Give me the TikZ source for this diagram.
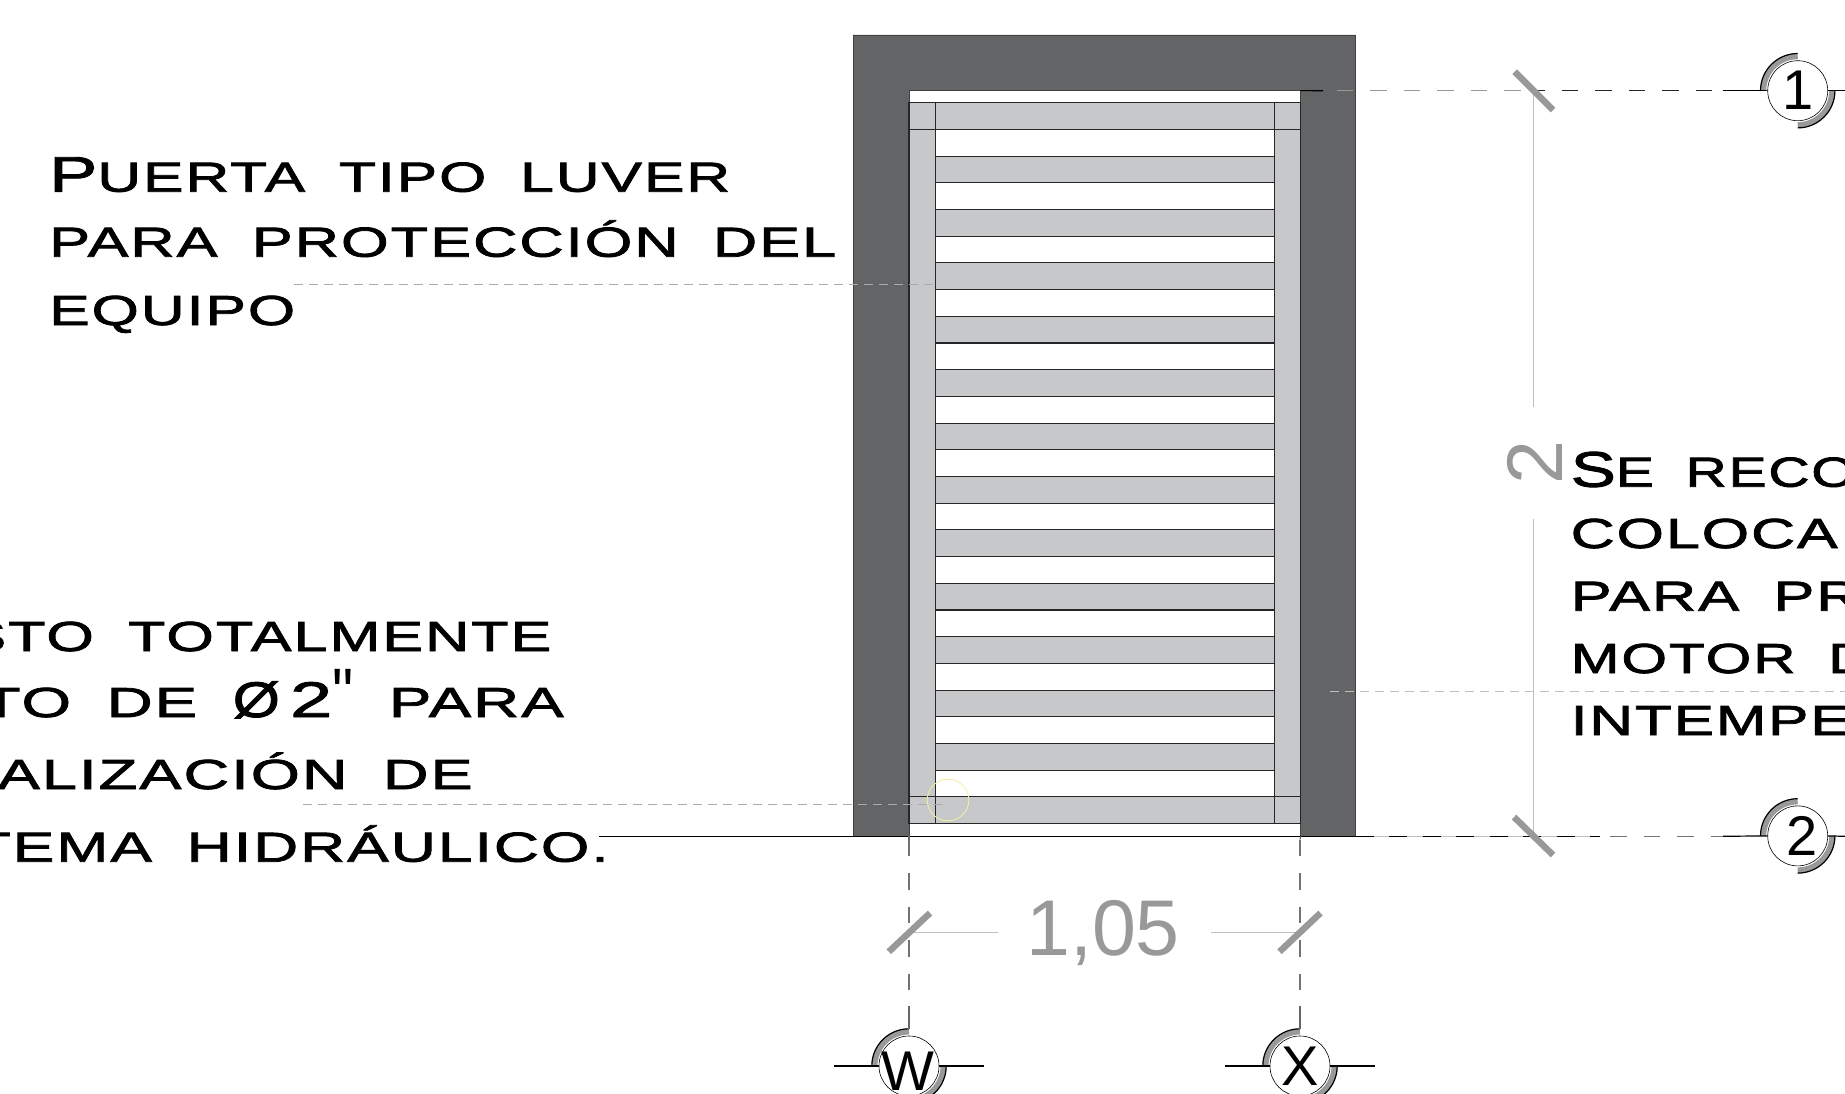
\documentclass[tikz,border=0pt]{standalone}
\usepackage{fontspec}
\usepackage{graphicx}
\setmainfont{Liberation Sans}
\newfontfamily\bank[FakeStretch=1.25,LetterSpace=4,FakeBold=1.8,WordSpace=1.8]{Liberation Sans}
\newfontfamily\thinf{Liberation Sans}
\definecolor{wallc}{HTML}{636466}
\definecolor{framec}{HTML}{C7C8CA}
\definecolor{dimc}{HTML}{999999}
\definecolor{leadc}{HTML}{ABABAB}
\definecolor{liney}{HTML}{F4F0A0}
\newcommand\fitw[2]{\resizebox{#1pt}{\height}{#2}}
\newcommand\capb[1]{{\fontsize{50}{50}\selectfont #1}}
\newcommand\axissym[6]{%
  % #1 name, #2 x, #3 y, #4 label, #5 label x shift, #6 label y shift
  \coordinate (#1c) at (#2,#3);
  \draw[axisarc] ([shift={(90:34.5pt)}]#1c) arc[start angle=90,end angle=180,radius=34.5pt];
  \draw[axisarc] ([shift={(270:34.5pt)}]#1c) arc[start angle=270,end angle=360,radius=34.5pt];
  \draw[axisedge] ([shift={(90:37.2pt)}]#1c) arc[start angle=90,end angle=180,radius=37.2pt];
  \draw[axisedge] ([shift={(270:37.2pt)}]#1c) arc[start angle=270,end angle=360,radius=37.2pt];
  \node[axiscirc] (#1) at (#1c) {};
  \node[axislabel,xshift=#5pt,yshift=#6pt] (#1t) at (#1c) {#4};
}
\tikzset{
  wall/.style={fill=wallc,draw=black!75,line width=0.7pt},
  rail/.style={fill=framec,draw=black!85,line width=1.1pt},
  railedge/.style={draw=black!85,line width=1.1pt},
  leader/.style={draw=leadc,line width=0.7pt,dash pattern=on 9pt off 6pt},
  axisdash/.style={draw=black!55,line width=1.2pt,dash pattern=on 16.5pt off 17pt},
  axisover/.style={draw=black,line width=1pt,dash pattern=on 18pt off 15.5pt},
  axisbase/.style={draw=black!25,line width=1pt},
  axisline/.style={draw=black,line width=1.2pt},
  axisvert/.style={draw=black!60,line width=1.2pt},
  dimline/.style={draw=black!25,line width=1pt},
  tick/.style={draw=dimc,line width=6.5pt},
  axisarc/.style={draw=dimc,line width=6pt},
  axisedge/.style={draw=black,line width=1.2pt},
  axiscirc/.style={circle,draw=black,fill=white,line width=0.6pt,minimum size=60pt,inner sep=0pt},
  axislabel/.style={inner sep=0pt,text=black,font=\fontsize{56}{56}\selectfont},
  dimtext/.style={inner sep=0pt,text=dimc,font=\fontsize{79}{79}\selectfont},
  note/.style={inner sep=0pt,text=black,font=\bank\fontsize{42}{42}\selectfont},
  cursor/.style={draw=liney,line width=0.8pt},
}
\begin{document}
\begin{tikzpicture}[x=1pt,y=-1pt]
\useasboundingbox (0,0) rectangle (1845,1094);
% named reference points
\coordinate (ioTL) at (909,90.6);
\coordinate (ioTR) at (1300.5,90.6);
\coordinate (ioBL) at (909,836.3);
\coordinate (ioBR) at (1300.5,836.3);
% wall
\fill[white] (ioTL) rectangle (ioBR);
\draw[wall] (853,836.3) -- (853,35) -- (1355.5,35) -- (1355.5,836.3) -- (ioBR) -- (ioTR) -- (ioTL) -- (ioBL) -- cycle;
% jambs
\draw[rail] (909,102.7) rectangle (935.7,823.8);
\draw[rail] (1274.9,102.7) rectangle (1300.8,823.8);
% slats
\foreach \i in {1,...,12}{
  \pgfmathsetmacro\yt{102.7+53.4*\i}
  \pgfmathsetmacro\yb{\yt+26.7}
  \draw[rail] (935.7,\yt) rectangle (1274.9,\yb);
}
% top and bottom rails, drawn over the jambs
\draw[rail] (935.7,102.7) rectangle (1274.9,129.4);
\draw[rail] (935.7,796.9) rectangle (1274.9,823.8);
\draw[railedge] (909,102.7) rectangle (1300.8,129.4);
\draw[railedge] (909,796.9) rectangle (1300.8,823.8);
\draw[railedge] (935.7,102.7) -- (935.7,129.4) (1274.9,102.7) -- (1274.9,129.4) (935.7,796.9) -- (935.7,823.8) (1274.9,796.9) -- (1274.9,823.8);
% axis symbols
\axissym{aA}{1797.7}{90.7}{1}{0}{0}
\axissym{aB}{1797.7}{835.9}{2}{4}{0}
\axissym{aW}{909}{1066}{W}{-1}{-5}
\axissym{aX}{1300}{1066}{X}{0}{0}
% horizontal axes
\coordinate (rA) at (1323,90.7);
\coordinate (dA) at (1336.6,90.7);
\coordinate (mA) at (1534,90.7);
\coordinate (sA) at (1723,90.7);
\coordinate (eA) at (1845,90.7);
\draw[axisline] (ioTR) -- (rA);
\draw[axisdash,draw=black!40] (dA) -- (mA);
\draw[axisdash,draw=black!85,dash phase=6pt] (mA) -- (sA);
\draw[axisline] (sA) -- (aA.west);
\draw[axisline] (aA.east) -- (eA);
\coordinate (wB) at (599,836.3);
\coordinate (oB) at (1355.5,836.3);
\coordinate (rB) at (1600,836.3);
\coordinate (dB) at (1610,836.3);
\coordinate (sB) at (1723,836.3);
\coordinate (eB) at (1845,836.3);
\draw[axisline,line width=0.9pt] (wB) -- (ioBL);
\draw[axisline,line width=1.6pt] (ioBL) -- (ioBR);
\draw[axisline,line width=0.9pt] (ioBR) -- (oB);
\draw[axisbase] (oB) -- (rB);
\draw[axisover] (oB) -- (rB);
\draw[axisdash] (dB) -- (sB);
\draw[axisline] (sB) -- (aB.west);
\draw[axisline] (aB.east) -- (eB);
% vertical axes
\coordinate (wD) at (909,839.5);
\coordinate (xD) at (1300,839.5);
\coordinate (wS) at (909,1006);
\coordinate (xS) at (1300,1006);
\coordinate (wE) at (909,1029);
\coordinate (xE) at (1300,1029);
\draw[axisvert] (ioBL) -- (wD);
\draw[axisvert] (ioBR) -- (xD);
\draw[axisdash] (wD) -- (wS);
\draw[axisdash] (xD) -- (xS);
\draw[axisvert] (wS) -- (wE);
\draw[axisvert] (xS) -- (xE);
\coordinate (wL) at (834.4,1066); \coordinate (wR) at (983.7,1066);
\coordinate (xL) at (1225,1066); \coordinate (xR) at (1375,1066);
\draw[axisline] (wL) -- (aW.west) (aW.east) -- (wR);
\draw[axisline] (xL) -- (aX.west) (aX.east) -- (xR);
% dimension 2 (vertical)
\node[dimtext,rotate=90] (dimV) at (1534.5,463) {2};
\coordinate (vTop) at (1533.8,90.7);
\coordinate (vA) at (1533.8,407);
\coordinate (vB) at (1533.8,519);
\coordinate (vBot) at (1533.8,836);
\draw[dimline] (vTop) -- (vA) (vB) -- (vBot);
\draw[tick] (1514.7,71.7) -- (1553,110);
\draw[tick] (1514,817) -- (1553,855);
% dimension 1,05 (horizontal)
\node[dimtext] (dimH) at (1103,933) {1,05};
\coordinate (hL) at (909,932);
\coordinate (hA) at (998,932);
\coordinate (hB) at (1211,932);
\coordinate (hR) at (1300,932);
\draw[dimline] (hL) -- (hA) (hB) -- (hR);
\draw[tick] (888.8,951.7) -- (930,913);
\draw[tick] (1279.5,951.7) -- (1320.5,913);
% leaders
\coordinate (l1a) at (294,284.3); \coordinate (l1b) at (936,284.3);
\coordinate (l2a) at (303,804);   \coordinate (l2b) at (944,804);
\coordinate (l3a) at (1330,691.7); \coordinate (l3b) at (1845,691.7);
\draw[leader] (l1a) -- (l1b);
\draw[leader] (l2a) -- (l2b);
\draw[leader,draw=black!25] (l3a) -- (l3b);
% cursor ring
\node[circle,cursor,minimum size=41.6pt,inner sep=0pt] (ring) at (948,800) {};
% notes, top left
\node[note,anchor=base west] (n1a) at (49,191.7) {\fitw{681}{\capb{P}UERTA TIPO LUVER}};
\node[note,anchor=base west] (n1b) at (49,256.7) {\fitw{787}{PARA PROTECCIÓN DEL}};
\node[note,anchor=base west] (n1c) at (49,325) {\fitw{246}{EQUIPO}};
% notes, bottom left (cut by the page edge)
\node[note,anchor=base east] (n2a) at (551.6,651) {\fitw{586}{STO TOTALMENTE}};
\node[note,anchor=base east] (n2b) at (564,717) {\fitw{582}{TO DE {\fontsize{50}{50}\selectfont\scalebox{0.8}[1]{Ø}\,2}{\thinf\fontsize{70}{70}\selectfont\scalebox{0.7}[1]{"}} PARA}};
\node[note,anchor=base east] (n2c) at (473,789) {\fitw{475}{ALIZACIÓN DE}};
\node[note,anchor=base east] (n2d) at (609,861.7) {\fitw{636}{TEMA HIDRÁULICO.}};
% notes, right (cut by the page edge)
\node[note,anchor=base west] (n3a) at (1570.5,486.7) {\fitw{285}{\capb{S}E RECO}};
\node[note,anchor=base west] (n3b) at (1570.5,548) {\fitw{267}{COLOCA}};
\node[note,anchor=base west] (n3c) at (1570.5,610.7) {\fitw{290}{PARA PR}};
\node[note,anchor=base west] (n3d) at (1570.5,673) {\fitw{300}{MOTOR D}};
\node[note,anchor=base west] (n3e) at (1570.5,735) {\fitw{280}{INTEMPE}};
\end{tikzpicture}
\end{document}
